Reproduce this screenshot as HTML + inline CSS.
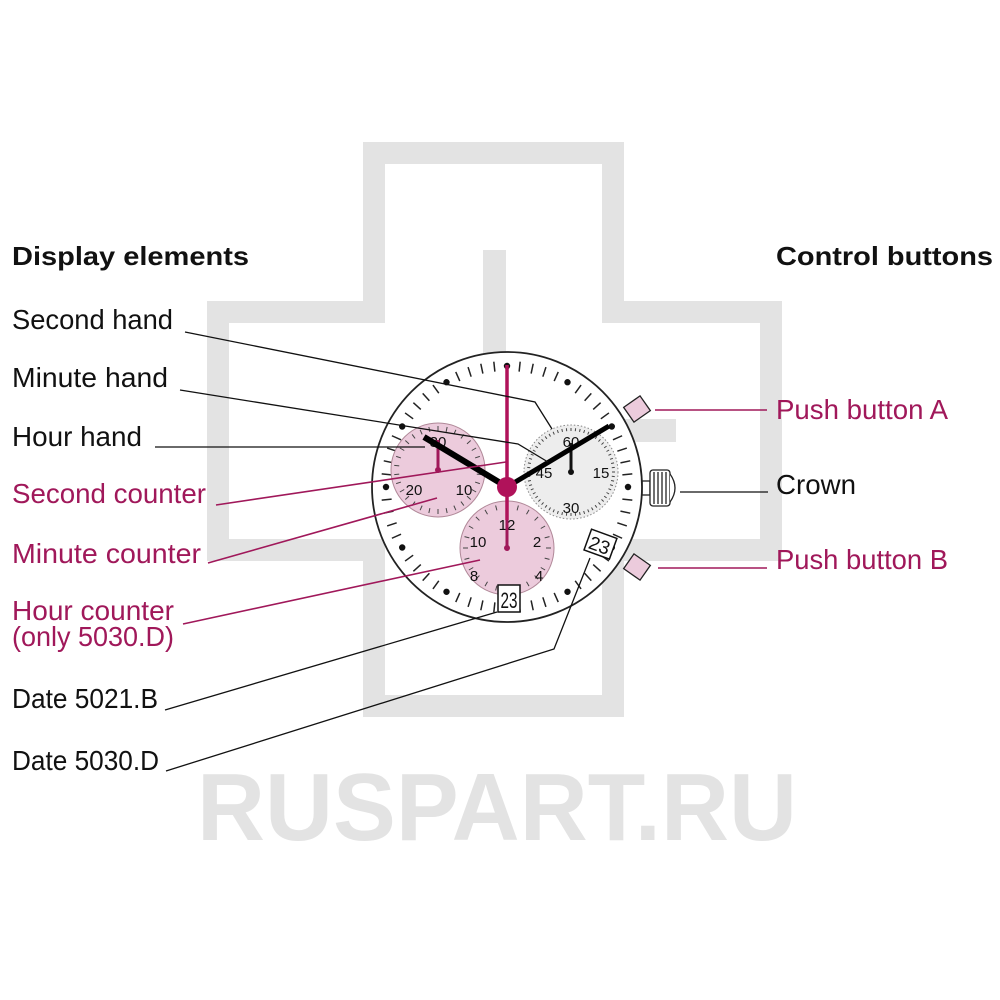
<!DOCTYPE html>
<html><head><meta charset="utf-8"><style>
html,body{margin:0;padding:0;background:#fff;}
svg{display:block;}
text{font-family:"Liberation Sans",Arial,sans-serif;}
</style></head><body>
<svg width="1000" height="1000" viewBox="0 0 1000 1000" xmlns="http://www.w3.org/2000/svg">
<g fill="none" stroke="#e3e3e3" stroke-width="22">
<path d="M374,312 V153 H613 V312 H771 V550 H613 V706 H374 V550 H218 V312 Z"/>
</g>
<rect x="483" y="250" width="23" height="192" fill="#e3e3e3"/>
<rect x="506" y="419" width="170" height="23" fill="#e3e3e3"/>
<text x="497" y="840" font-size="96" font-weight="bold" fill="#e3e3e3" text-anchor="middle" textLength="600" lengthAdjust="spacingAndGlyphs">RUSPART.RU</text>

<text x="12" y="265" font-size="26" font-weight="bold" fill="#111" textLength="237" lengthAdjust="spacingAndGlyphs">Display elements</text>
<text x="776" y="265" font-size="26" font-weight="bold" fill="#111" textLength="217" lengthAdjust="spacingAndGlyphs">Control buttons</text>

<g font-size="28" fill="#111">
<text x="12" y="329" textLength="161" lengthAdjust="spacingAndGlyphs">Second hand</text>
<text x="12" y="387" textLength="156" lengthAdjust="spacingAndGlyphs">Minute hand</text>
<text x="12" y="446" textLength="130" lengthAdjust="spacingAndGlyphs">Hour hand</text>
<text x="12" y="708" textLength="146" lengthAdjust="spacingAndGlyphs">Date 5021.B</text>
<text x="12" y="770" textLength="147" lengthAdjust="spacingAndGlyphs">Date 5030.D</text>
<text x="776" y="494" textLength="80" lengthAdjust="spacingAndGlyphs">Crown</text>
</g>
<g font-size="28" fill="#a0185a">
<text x="12" y="503" textLength="194" lengthAdjust="spacingAndGlyphs">Second counter</text>
<text x="12" y="563" textLength="189" lengthAdjust="spacingAndGlyphs">Minute counter</text>
<text x="12" y="620" textLength="162" lengthAdjust="spacingAndGlyphs">Hour counter</text>
<text x="12" y="646" textLength="162" lengthAdjust="spacingAndGlyphs">(only 5030.D)</text>
<text x="776" y="419" textLength="172" lengthAdjust="spacingAndGlyphs">Push button A</text>
<text x="776" y="569" textLength="172" lengthAdjust="spacingAndGlyphs">Push button B</text>
</g>

<g stroke="#222" stroke-width="1.3">
<rect x="627" y="400" width="20" height="18" fill="#eccbdc" transform="rotate(-35 637 409)"/>
<rect x="627" y="558" width="20" height="18" fill="#eccbdc" transform="rotate(35 637 567)"/>
<rect x="642" y="481" width="8" height="14" fill="#fff"/>
<rect x="650" y="470" width="20" height="36" rx="3" fill="#fff"/>
<path d="M670,474 Q680,488 670,502" fill="#fff"/>
<line x1="654" y1="472" x2="654" y2="504"/><line x1="658" y1="472" x2="658" y2="504"/><line x1="662" y1="472" x2="662" y2="504"/><line x1="666" y1="472" x2="666" y2="504"/>
</g>

<circle cx="507" cy="487" r="135" fill="#fff" stroke="#222" stroke-width="1.8"/>
<g id="ticks" stroke="#222" stroke-width="1.5"></g>
<circle cx="438" cy="470" r="47" fill="#eccbdc" stroke="#b08898" stroke-width="1"/>
<circle cx="571" cy="472" r="47" fill="#ededed" stroke="#888" stroke-width="1" stroke-dasharray="1.5 2"/>
<circle cx="507" cy="548" r="47" fill="#eccbdc" stroke="#b08898" stroke-width="1"/>
<g id="subticks" stroke="#444" stroke-width="1"></g>
<g font-size="15" fill="#111" text-anchor="middle">
<text x="438" y="447">30</text><text x="414" y="495">20</text><text x="464" y="495">10</text>
<text x="571" y="447">60</text><text x="544" y="478">45</text><text x="601" y="478">15</text><text x="571" y="513">30</text>
<text x="507" y="530">12</text><text x="478" y="547">10</text><text x="537" y="547">2</text><text x="474" y="581">8</text><text x="539" y="581">4</text>
</g>
<rect x="498" y="585" width="22" height="27" fill="#fff" stroke="#111" stroke-width="1.5"/>
<text x="509" y="608" font-size="22" text-anchor="middle" fill="#111" textLength="17" lengthAdjust="spacingAndGlyphs">23</text>
<g transform="rotate(20 600 544)">
<rect x="587" y="533" width="27" height="22" fill="#fff" stroke="#111" stroke-width="1.5"/>
<text x="600" y="552" font-size="19" text-anchor="middle" fill="#111">23</text>
</g>

<line x1="438" y1="470" x2="438" y2="440" stroke="#a0185a" stroke-width="3"/>
<circle cx="438" cy="470" r="3" fill="#a0185a"/>
<line x1="571" y1="472" x2="571" y2="443" stroke="#111" stroke-width="3"/>
<circle cx="571" cy="472" r="3" fill="#111"/>
<line x1="507" y1="548" x2="507" y2="518" stroke="#a0185a" stroke-width="3"/>
<circle cx="507" cy="548" r="3" fill="#a0185a"/>

<line x1="507" y1="365" x2="507" y2="520" stroke="#b0125a" stroke-width="3.5"/>
<line x1="507" y1="487" x2="424" y2="437" stroke="#000" stroke-width="6"/>
<line x1="507" y1="487" x2="609" y2="426" stroke="#000" stroke-width="5"/>
<circle cx="507" cy="487" r="10" fill="#b0125a"/>

<g fill="none" stroke="#111" stroke-width="1.3">
<polyline points="185,332 535,402 552,429"/>
<polyline points="180,390 518,444 548,462"/>
<line x1="155" y1="447" x2="425" y2="447"/>
<line x1="165" y1="710" x2="497" y2="612"/>
<polyline points="166,771 554,649 590,558"/>
<line x1="680" y1="492" x2="768" y2="492"/>
</g>
<g fill="none" stroke="#a0185a" stroke-width="1.6">
<line x1="216" y1="505" x2="506" y2="462"/>
<line x1="208" y1="563" x2="437" y2="498"/>
<line x1="183" y1="624" x2="480" y2="560"/>
<line x1="655" y1="410" x2="767" y2="410"/>
<line x1="658" y1="568" x2="767" y2="568"/>
</g>
</svg>
<script>
(function(){
var ns='http://www.w3.org/2000/svg';
function L(g,x1,y1,x2,y2){var l=document.createElementNS(ns,'line');l.setAttribute('x1',x1);l.setAttribute('y1',y1);l.setAttribute('x2',x2);l.setAttribute('y2',y2);g.appendChild(l);}
var g=document.getElementById('ticks'),cx=507,cy=487;
for(var i=0;i<60;i++){
 var a=i*Math.PI/30,s=Math.sin(a),c=-Math.cos(a);
 if(i%5==0){var d=document.createElementNS(ns,'circle');d.setAttribute('cx',cx+121*s);d.setAttribute('cy',cy+121*c);d.setAttribute('r',3.2);d.setAttribute('fill','#111');d.setAttribute('stroke','none');g.appendChild(d);}
 else L(g,cx+116*s,cy+116*c,cx+126*s,cy+126*c);
}
var sg=document.getElementById('subticks');
[[438,470,30],[507,548,24]].forEach(function(p){
 for(var i=0;i<p[2];i++){var a=i*2*Math.PI/p[2],s=Math.sin(a),c=-Math.cos(a);L(sg,p[0]+39*s,p[1]+39*c,p[0]+44*s,p[1]+44*c);}
});
for(var i=0;i<60;i++){var a=i*Math.PI/30,s=Math.sin(a),c=-Math.cos(a);L(sg,571+41*s,472+41*c,571+44*s,472+44*c);}
})();
</script>
</body></html>
